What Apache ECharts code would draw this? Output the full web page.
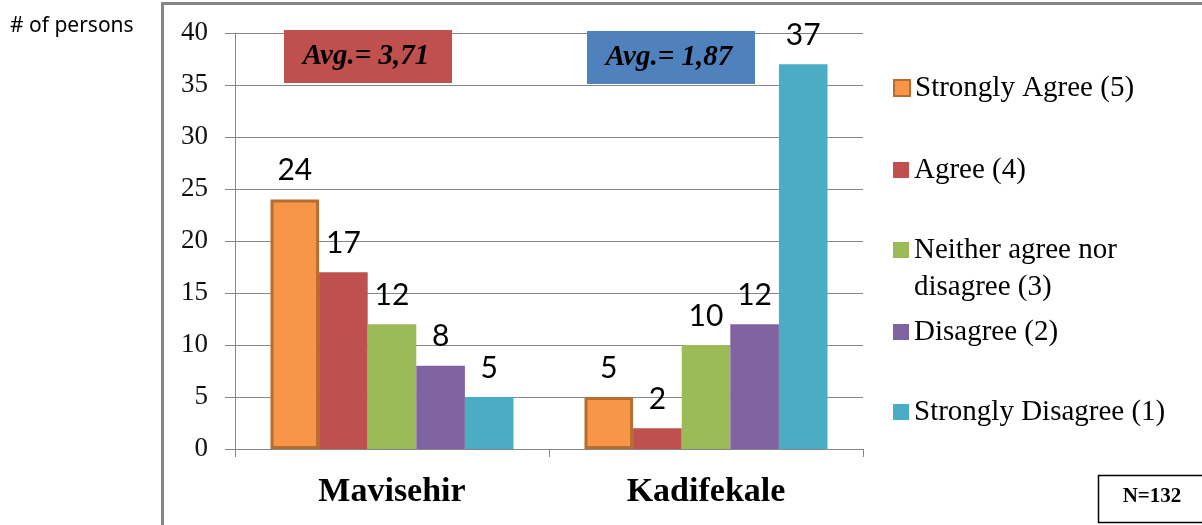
<!DOCTYPE html>
<html>
<head>
<meta charset="utf-8">
<script src="https://cdn.jsdelivr.net/npm/echarts@6/dist/echarts.min.js"></script>
<style>
  html, body { margin: 0; padding: 0; background: #fff; }
  #main { width: 1202px; height: 525px; }
</style>
</head>
<body>
<div id="main"></div>
<script>
// data
var categories = ['Mavisehir', 'Kadifekale'];
var seriesNames = ['Strongly Agree (5)', 'Agree (4)', 'Neither agree nor disagree (3)', 'Disagree (2)', 'Strongly Disagree (1)'];
var stronglyAgree = [24, 5];
var agree = [17, 2];
var neither = [12, 10];
var disagree = [8, 12];
var stronglyDisagree = [5, 37];
var averages = ['Avg.= 3,71', 'Avg.= 1,87'];
var sampleSize = 'N=132';

var colors = ['#F79646', '#C0504D', '#9BBB59', '#8064A2', '#4BACC6'];
var values = [stronglyAgree, agree, neither, disagree, stronglyDisagree];

var chart = echarts.init(document.getElementById('main'));

var series = seriesNames.map(function (name, i) {
  var s = {
    name: name,
    type: 'bar',
    data: values[i],
    barGap: '0%',
    barCategoryGap: '22.6%',
    itemStyle: { color: colors[i] },
    label: {
      show: true,
      position: 'top',
      distance: 14,
      fontFamily: 'Lato',
      fontSize: 30,
      color: '#000'
    }
  };
  if (i === 0) {
    s.itemStyle.borderColor = '#B66D31';
    s.itemStyle.borderWidth = 3;
  }
  return s;
});

// one legend per item so the uneven spacing of the original can be kept
var legendTops = [69.5, 151.5, 231.5, 313.5, 393.5];
var legendFont = { fontFamily: 'Liberation Serif', fontSize: 29, lineHeight: 37, color: '#000' };
var legends = seriesNames.map(function (name, i) {
  var lg = {
    data: [name],
    orient: 'vertical',
    left: 893,
    top: legendTops[i],
    padding: 0,
    icon: 'rect',
    itemWidth: 16,
    itemHeight: 16,
    itemGap: 0,
    textStyle: legendFont
  };
  if (i === 2) {
    // wrapped name: first line here, second line as a text below
    lg.formatter = function () { return 'Neither agree nor'; };
  }
  return lg;
});

var option = {
  animation: false,
  backgroundColor: '#fff',
  grid: { left: 235, right: 339, top: 33, bottom: 76 },
  legend: legends,
  xAxis: {
    type: 'category',
    data: categories,
    axisLine: { lineStyle: { color: '#868686', width: 1 } },
    axisTick: { show: true, length: 8, lineStyle: { color: '#868686' } },
    axisLabel: {
      margin: 26,
      fontFamily: 'Liberation Serif',
      fontWeight: 'bold',
      fontSize: 34,
      color: '#000'
    }
  },
  yAxis: {
    type: 'value',
    min: 0,
    max: 40,
    interval: 5,
    axisLine: { show: true, lineStyle: { color: '#868686', width: 1 } },
    axisTick: { show: true, length: 10, lineStyle: { color: '#868686' } },
    splitLine: { lineStyle: { color: '#868686', width: 1 } },
    axisLabel: {
      margin: 27,
      fontFamily: 'Liberation Serif',
      fontSize: 27,
      color: '#111'
    }
  },
  series: series,
  graphic: [
    {
      type: 'rect', z: 0, silent: true,
      shape: { x: 162.5, y: 3.5, width: 1100, height: 600 },
      style: { fill: null, stroke: '#868686', lineWidth: 3 }
    },
    {
      type: 'text', left: 10, top: 16,
      style: { text: '# of persons', font: '21px "Noto Sans"', fill: '#000' }
    },
    {
      type: 'text', x: 914, y: 287,
      style: {
        text: 'disagree (3)', font: '29px "Liberation Serif"',
        fill: '#000', verticalAlign: 'middle'
      }
    },
    {
      type: 'rect', z: 10,
      shape: { x: 284, y: 30, width: 168, height: 53 },
      style: { fill: '#C0504D' }
    },
    {
      type: 'text', z: 11, x: 366, y: 57,
      style: {
        text: averages[0], font: 'italic bold 29px "Liberation Serif"',
        fill: '#000', align: 'center', verticalAlign: 'middle'
      }
    },
    {
      type: 'rect', z: 10,
      shape: { x: 587, y: 31, width: 168, height: 53 },
      style: { fill: '#4F81BD' }
    },
    {
      type: 'text', z: 11, x: 669, y: 58,
      style: {
        text: averages[1], font: 'italic bold 29px "Liberation Serif"',
        fill: '#000', align: 'center', verticalAlign: 'middle'
      }
    },
    {
      type: 'rect', z: 10,
      shape: { x: 1098.5, y: 475.5, width: 110, height: 47 },
      style: { fill: '#fff', stroke: '#000', lineWidth: 1.5 }
    },
    {
      type: 'text', z: 11, x: 1152, y: 497,
      style: {
        text: sampleSize, font: 'bold 21px "Liberation Serif"',
        fill: '#000', align: 'center', verticalAlign: 'middle'
      }
    }
  ]
};

chart.setOption(option);
</script>
</body>
</html>
